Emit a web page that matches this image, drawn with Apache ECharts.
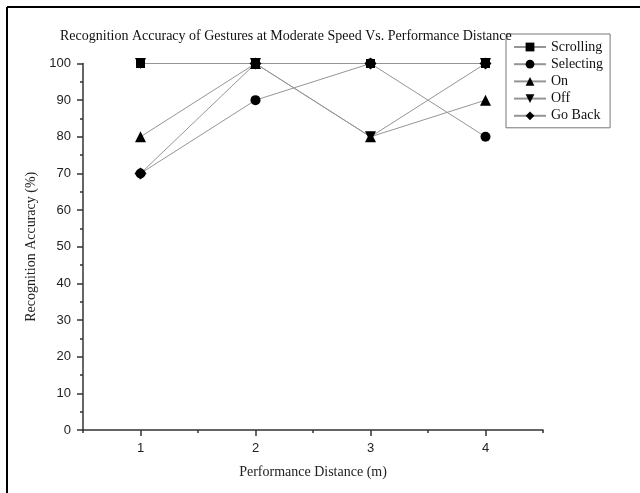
<!DOCTYPE html>
<html>
<head>
<meta charset="utf-8">
<script src="https://cdn.jsdelivr.net/npm/echarts@6/dist/echarts.min.js"></script>
<style>
  html, body { margin: 0; padding: 0; background: #fff; }
  #chart { width: 640px; height: 493px; }
</style>
</head>
<body>
<div id="chart"></div>
<script>
// performance distance (m)
const distances = [1, 2, 3, 4];
const xLabels = [1, 2, 3, 4];

// recognition accuracy (%) per gesture
const scrolling = [100, 100, 100, 100];
const selecting = [70, 90, 100, 80];
const onGesture = [80, 100, 80, 90];
const offGesture = [100, 100, 80, 100];
const goBack = [70, 100, 100, 100];

const serif = 'Liberation Serif';
const sans = 'Liberation Sans';
const lineGray = '#959595';
const axisColor = '#333';

function pairs(vals) {
  return distances.map((d, i) => [d, vals[i]]);
}

function mkSeries(name, vals, symbol, size, rotate) {
  return {
    name: name,
    type: 'line',
    data: pairs(vals),
    symbol: symbol,
    symbolSize: size,
    symbolRotate: rotate || 0,
    showAllSymbol: true,
    lineStyle: { color: lineGray, width: 1 },
    itemStyle: { color: '#000' },
    emphasis: { disabled: true },
    animation: false
  };
}

const chart = echarts.init(document.getElementById('chart'));

const option = {
  animation: false,
  title: {
    text: 'Recognition Accuracy of Gestures at Moderate Speed Vs. Performance Distance',
    left: 55,
    top: 24,
    textStyle: { fontFamily: serif, fontSize: 14, fontWeight: 'normal', color: '#111' }
  },
  legend: {
    orient: 'vertical',
    left: 506,
    top: 34,
    padding: [6, 7, 5, 7],
    itemGap: 3.2,
    itemWidth: 32,
    itemHeight: 11,
    borderColor: '#777',
    borderWidth: 1,
    textStyle: { fontFamily: serif, fontSize: 14, color: '#111' },
    data: ['Scrolling', 'Selecting', 'On', 'Off', 'Go Back']
  },
  grid: { left: 83, right: 97, top: 63.5, bottom: 63 },
  xAxis: [{
    type: 'value',
    min: 0.5,
    max: 4.5,
    interval: 0.5,
    name: 'Performance Distance (m)',
    nameLocation: 'middle',
    nameGap: 35,
    nameTextStyle: { fontFamily: serif, fontSize: 14, color: '#222' },
    axisLine: { onZero: false, lineStyle: { color: axisColor, width: 1.5 } },
    axisTick: { length: 3, lineStyle: { color: axisColor, width: 1.5 } },
    axisLabel: {
      margin: 12,
      fontFamily: sans, fontSize: 13, color: '#222',
      formatter: v => (xLabels.indexOf(v) >= 0 ? String(v) : '')
    },
    splitLine: { show: false }
  }, {
    type: 'value',
    min: 0.5,
    max: 4.5,
    interval: 0.5,
    position: 'bottom',
    axisLine: { show: false },
    axisTick: { length: 6, customValues: xLabels, lineStyle: { color: axisColor, width: 1.5 } },
    axisLabel: { show: false },
    splitLine: { show: false }
  }],
  yAxis: {
    type: 'value',
    min: 0,
    max: 100,
    interval: 10,
    name: 'Recognition Accuracy (%)',
    nameLocation: 'middle',
    nameGap: 42,
    nameTextStyle: { fontFamily: serif, fontSize: 14, color: '#222' },
    axisLine: { show: true, lineStyle: { color: axisColor, width: 1.5 } },
    axisTick: { show: true, length: 6, lineStyle: { color: axisColor, width: 1.5 } },
    minorTick: { show: true, splitNumber: 2, length: 3, lineStyle: { color: axisColor, width: 1.5 } },
    axisLabel: { margin: 12, fontFamily: sans, fontSize: 13, color: '#222' },
    splitLine: { show: false }
  },
  graphic: [
    { type: 'line', shape: { x1: 7, y1: 7, x2: 640, y2: 7 }, style: { stroke: '#000', lineWidth: 2 } },
    { type: 'line', shape: { x1: 7, y1: 7, x2: 7, y2: 493 }, style: { stroke: '#000', lineWidth: 2 } }
  ],
  series: [
    mkSeries('Scrolling', scrolling, 'rect', 9),
    mkSeries('Selecting', selecting, 'circle', 10),
    mkSeries('On', onGesture, 'triangle', 11),
    mkSeries('Off', offGesture, 'triangle', 11, 180),
    mkSeries('Go Back', goBack, 'diamond', 12)
  ]
};

chart.setOption(option);
</script>
</body>
</html>
